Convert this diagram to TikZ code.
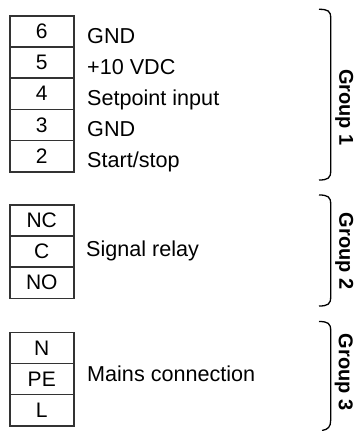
\documentclass[tikz,border=0pt]{standalone}
\usepackage{fontspec}
\setmainfont{Liberation Sans}
\begin{document}
\begin{tikzpicture}[x=1pt,y=1pt,
  cell/.style={draw=black!80, line width=1.5pt, minimum width=64pt, minimum height=31.2pt,
     inner sep=0pt, anchor=north west, font=\fontsize{21}{24}\selectfont},
  lbl/.style={anchor=base west, inner sep=0pt, font=\fontsize{21.6}{24}\selectfont},
  grp/.style={anchor=base, rotate=-90, inner sep=0pt, font=\fontsize{20}{24}\selectfont\bfseries},
  brace/.style={line width=1.3pt, black}]
\useasboundingbox (0,0) rectangle (357,-431);
% Group 1
\node[cell] (c6) at (9,-15) {6};
\node[cell] (c5) at (9,-46.2) {5};
\node[cell] (c4) at (9,-77.4) {4};
\node[cell] (c3) at (9,-108.6) {3};
\node[cell] (c2) at (9,-139.8) {2};
\node[lbl] (l6) at (87,-43) {GND};
\node[lbl] (l5) at (87,-74) {+10 VDC};
\node[lbl] (l4) at (87,-105) {Setpoint input};
\node[lbl] (l3) at (87,-136.3) {GND};
\node[lbl] (l2) at (87,-167) {Start/stop};
% Group 2
\node[cell] (nc) at (9,-204) {NC};
\node[cell] (cc) at (9,-235.2) {C};
\node[cell] (no) at (9,-266.4) {NO};
\node[lbl] (sr) at (86,-256.7) {Signal relay};
% Group 3
\node[cell] (nn) at (9,-331.5) {N};
\node[cell] (pe) at (9,-362.7) {PE};
\node[cell] (ll) at (9,-393.9) {L};
\node[lbl] (mc) at (87,-381.7) {Mains connection};
% Braces
\draw[brace] (319,-9.3) .. controls (328,-9.3) and (330.7,-11) .. (330.7,-18)
  -- (330.7,-171) .. controls (330.7,-178) and (328,-180) .. (319,-180);
\draw[brace] (319,-195) .. controls (328,-195) and (330.7,-197) .. (330.7,-204)
  -- (330.7,-297) .. controls (330.7,-304) and (328,-306) .. (319,-306);
\draw[brace] (319,-321.5) .. controls (328,-321.5) and (330.7,-323.5) .. (330.7,-330.5)
  -- (330.7,-420) .. controls (330.7,-427) and (328,-429.5) .. (322,-430.5);
% Group labels
\node[grp] (g1) at (339.3,-107.5) {Group 1};
\node[grp] (g2) at (339.3,-251) {Group 2};
\node[grp] (g3) at (338.8,-372) {Group 3};
\end{tikzpicture}
\end{document}
